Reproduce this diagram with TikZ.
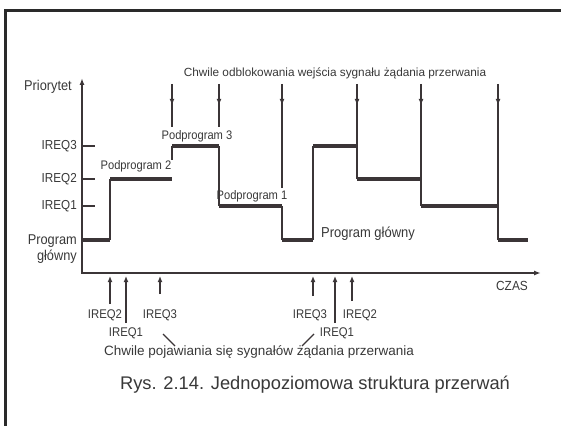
\documentclass[tikz,border=0pt]{standalone}
\usepackage{fontspec}
\setmainfont{Liberation Sans}
\newfontfamily\narrowsans[FakeStretch=0.9]{Liberation Sans}
\usetikzlibrary{arrows.meta,decorations.markings}
\definecolor{linegray}{HTML}{3B3537}
\definecolor{textgray}{HTML}{383838}
\definecolor{framegray}{HTML}{2A2A2A}
\newcommand{\fs}[1]{\fontsize{#1}{#1}\selectfont}
\newcommand{\nfs}[1]{\narrowsans\fontsize{#1}{#1}\selectfont}
\tikzset{
	level/.style={line width=3.8pt,draw=linegray},
	riser/.style={line width=1.6pt,draw=linegray},
	axis/.style={line width=1.6pt,draw=linegray,-{Latex[length=7pt,width=5pt]}},
	unblock/.style={line width=1.6pt,draw=linegray,postaction={decorate},
		decoration={markings,mark=at position 21pt with {\arrow{Latex[length=6pt,width=5pt]}}}},
	request/.style={line width=1.4pt,draw=linegray,-{Latex[length=6pt,width=5pt]}},
	lbl/.style={text=textgray,inner sep=0pt,font=\nfs{12.4}},
}
\begin{document}
\begin{tikzpicture}[x=1pt,y=-1pt]
		\useasboundingbox (0,0) rectangle (561,425);
		% frame
		\draw[line width=2.8pt,framegray] (5.5,430) -- (5.5,10.3) -- (566,10.3);
		
		% axes
		\draw[axis] (82,273) -- (82,78);
		\draw[axis] (81,273) -- (541,273);
		\node[lbl,anchor=east,font=\nfs{14.2}] (prio) at (72,87) {Priorytet};
		\node[lbl,font=\nfs{13.2}] (czas) at (512,286) {CZAS};
		
		% priority levels
		\foreach \y/\txt in {146/IREQ3,179/IREQ2,206/IREQ1}{
			\draw[riser] (82,\y) -- (95,\y);
			\node[lbl,anchor=east,font=\nfs{13}] (lev\txt) at (77,\y) {\txt};
		}
		\node[lbl,anchor=east,align=right,font=\narrowsans\fontsize{14.2}{16}\selectfont] (levmain) at (77,249) {Program\\główny};
		
		% program levels
		\draw[level] (82,240) -- (110,240);
		\draw[level] (110,179) -- (172,179);
		\draw[level] (172,146) -- (219,146);
		\draw[level] (219,206) -- (282,206);
		\draw[level] (282,240) -- (313,240);
		\draw[level] (313,146) -- (357,146);
		\draw[level] (357,179) -- (421,179);
		\draw[level] (421,206) -- (498,206);
		\draw[level] (498,240) -- (528,240);
		% steps
		\draw[riser] (110,240) -- (110,179);
		\draw[riser] (172,146) -- (172,160);
		\draw[riser] (219,146) -- (219,206);
		\draw[riser] (282,206) -- (282,240);
		\draw[riser] (313,240) -- (313,146);
		
		\node[lbl] (sub2) at (136,166) {Podprogram 2};
		\node[lbl] (sub3) at (197,136) {Podprogram 3};
		\node[lbl] (sub1) at (252,196) {Podprogram 1};
		\node[lbl,font=\nfs{14.4}] (mainprog) at (368,234) {Program główny};
		
		% unblocking moments
		\node[lbl,font=\fs{11.8}] (unblk) at (335,73) {Chwile odblokowania wejścia sygnału żądania przerwania};
		\foreach \x/\yend in {172/127,219/127,282/188,357/179,421/206,498/240}{
			\draw[unblock] (\x,84) -- (\x,\yend);
		}
		
		% interrupt requests
		\foreach \x/\ylow in {110/304,126/323,160/294,313/296,335/323,352/301}{
			\draw[request] (\x,\ylow) -- (\x,276);
		}
		\node[lbl,font=\nfs{12.6}] (reqa) at (105,315) {IREQ2};
		\node[lbl,font=\nfs{12.6}] (reqb) at (126,333) {IREQ1};
		\node[lbl,font=\nfs{12.6}] (reqc) at (160,315) {IREQ3};
		\node[lbl,font=\nfs{12.6}] (reqd) at (310,315) {IREQ3};
		\node[lbl,font=\nfs{12.6}] (reqe) at (337,333) {IREQ1};
		\node[lbl,font=\nfs{12.6}] (reqf) at (360,315) {IREQ2};
		\node[lbl,font=\fs{13.5}] (reqtxt) at (259,352) {Chwile pojawiania się sygnałów żądania przerwania};
		\draw[riser,line width=1.3pt] (163,334) -- (175,346);
		\draw[riser,line width=1.3pt] (314,334) -- (302,346);
		
		% caption
		\node[lbl,font=\fs{18.3}] (caption) at (315,385) {Rys. 2.14. Jednopoziomowa struktura przerwań};
	\end{tikzpicture}
\end{document}
